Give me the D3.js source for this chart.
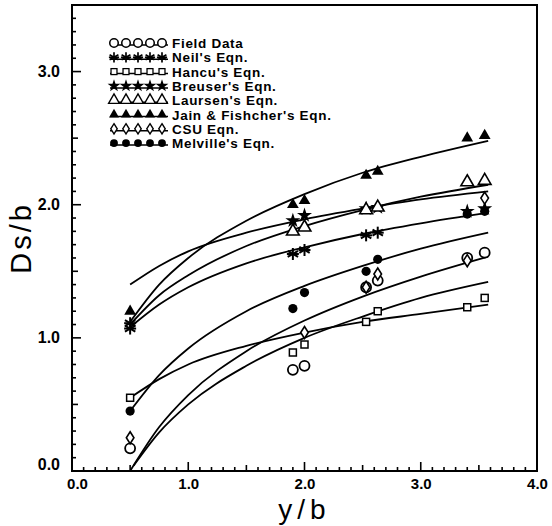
<!DOCTYPE html>
<html><head><meta charset="utf-8">
<script src="https://cdn.jsdelivr.net/npm/d3@7"></script>
<style>body{margin:0;background:#fff}svg{display:block}</style>
</head><body>
<svg id="c" width="552" height="526"></svg>
<script>
// ---- data ----
const seriesNames = ["Field  Data","Neil's  Eqn.","Hancu's  Eqn.","Breuser's  Eqn.","Laursen's  Eqn.","Jain  &  Fishcher's  Eqn.","CSU  Eqn.","Melville's  Eqn."];
const seriesSymbols = ["circle","asterisk","square","star","triangleOpen","triangle","diamond","dot"];

// measured / computed points
const fieldX = [0.5, 1.9, 2.0, 2.53, 2.63, 3.4, 3.55];
const fieldY = [0.17, 0.76, 0.79, 1.38, 1.43, 1.60, 1.64];
const neilX = [0.5, 0.5, 1.9, 2.0, 2.53, 2.63];
const neilY = [1.07, 1.11, 1.63, 1.66, 1.77, 1.79];
const hancuX = [0.5, 1.9, 2.0, 2.53, 2.63, 3.4, 3.55];
const hancuY = [0.55, 0.89, 0.95, 1.12, 1.20, 1.23, 1.30];
const breuserX = [1.9, 2.0, 2.53, 2.63, 3.4, 3.55];
const breuserY = [1.88, 1.92, 1.97, 1.98, 1.95, 1.97];
const laursenX = [1.9, 2.0, 2.53, 2.63, 3.4, 3.55];
const laursenY = [1.80, 1.83, 1.96, 1.98, 2.17, 2.18];
const jainX = [0.5, 1.9, 2.0, 2.53, 2.63, 3.4, 3.55];
const jainY = [1.20, 2.00, 2.03, 2.22, 2.25, 2.50, 2.52];
const csuX = [0.5, 2.0, 2.53, 2.63, 3.4, 3.55];
const csuY = [0.25, 1.04, 1.38, 1.48, 1.58, 2.05];
const melvilleX = [0.5, 1.9, 2.0, 2.53, 2.63, 3.4, 3.55];
const melvilleY = [0.45, 1.22, 1.34, 1.50, 1.59, 1.93, 1.95];

// fitted curves, read at these y/b positions
const curveX = [0.5, 0.75, 1.0, 1.5, 2.0, 2.5, 3.0, 3.58];
const csuCurveX = [0.53, 0.75, 1.0, 1.5, 2.0, 2.5, 3.0, 3.58];
const fieldCurve    = [0.00, 0.33, 0.57, 0.90, 1.13, 1.31, 1.46, 1.61];
const neilCurve     = [1.08, 1.25, 1.38, 1.56, 1.68, 1.78, 1.86, 1.94];
const hancuCurve    = [0.55, 0.69, 0.80, 0.94, 1.04, 1.12, 1.18, 1.25];
const breuserCurve  = [1.40, 1.54, 1.65, 1.79, 1.89, 1.97, 2.04, 2.10];
const laursenCurve  = [1.10, 1.32, 1.47, 1.69, 1.84, 1.96, 2.06, 2.15];
const jainCurve     = [1.12, 1.40, 1.60, 1.88, 2.08, 2.24, 2.36, 2.48];
const csuCurve      = [0.04, 0.29, 0.50, 0.79, 1.00, 1.16, 1.30, 1.42];
const melvilleCurve = [0.45, 0.72, 0.92, 1.20, 1.39, 1.54, 1.67, 1.79];

const xTicks = [0, 1, 2, 3, 4];
const yTicks = [0, 1, 2, 3];

// ---- drawing ----
const svg = d3.select("#c");
const x = d3.scaleLinear().domain([0, 4]).range([72, 537]);
const y = d3.scaleLinear().domain([0, 3.5]).range([471, 5]);

const fmt = d3.format(".1f");

// minor / major ticks (inside)
const xMinor = d3.range(0, 40.01, 1).map(d => d / 10);
const yMinor = d3.range(0, 35.01, 1).map(d => d / 10);
function tickLen(v) { const r = Math.round(v * 10); return r % 10 === 0 ? 9 : (r % 5 === 0 ? 6 : 4); }

const gx = svg.append("g").attr("transform", `translate(0,${y(0)})`);
xMinor.forEach(v => {
  gx.append("line").attr("x1", x(v)).attr("x2", x(v)).attr("y1", 0).attr("y2", -tickLen(v))
    .attr("stroke", "#000").attr("stroke-width", 1.6);
});
const gxl = svg.append("g").attr("transform", `translate(0,${y(0)})`)
  .call(d3.axisBottom(x).tickValues(xTicks).tickSize(0).tickPadding(7).tickFormat(fmt));
gxl.select(".domain").remove();
gxl.selectAll("text").attr("font-family", "Liberation Sans, Arial, sans-serif").attr("font-weight", "bold")
  .attr("font-size", 15).attr("fill", "#000").attr("dx", (d) => d === 0 ? 5 : 0);

const gy = svg.append("g").attr("transform", `translate(${x(0)},0)`);
yMinor.forEach(v => {
  gy.append("line").attr("y1", y(v)).attr("y2", y(v)).attr("x1", 0).attr("x2", tickLen(v))
    .attr("stroke", "#000").attr("stroke-width", 1.6);
});
const gyl = svg.append("g").attr("transform", `translate(${x(0)},0)`)
  .call(d3.axisLeft(y).tickValues(yTicks).tickSize(0).tickPadding(12).tickFormat(fmt));
gyl.select(".domain").remove();
gyl.selectAll("text").attr("font-family", "Liberation Sans, Arial, sans-serif").attr("font-weight", "bold")
  .attr("font-size", 16).attr("fill", "#000").attr("dy", (d) => d === 0 ? "-0.1em" : "0.32em");

// frame
svg.append("rect").attr("x", x(0)).attr("y", y(3.5)).attr("width", x(4) - x(0)).attr("height", y(0) - y(3.5))
  .attr("fill", "none").attr("stroke", "#000").attr("stroke-width", 2);

// axis titles
svg.append("text").attr("transform", `translate(31,${y(1.75)}) rotate(-90)`).attr("text-anchor", "middle")
  .attr("font-family", "Liberation Sans, Arial, sans-serif").attr("font-size", 29).attr("letter-spacing", 3)
  .text("Ds/b");
svg.append("text").attr("x", x(2)).attr("y", 519).attr("text-anchor", "middle")
  .attr("font-family", "Liberation Sans, Arial, sans-serif").attr("font-size", 28).attr("letter-spacing", 5)
  .text("y/b");

// curves
const line = d3.line().x(d => x(d[0])).y(d => y(d[1])).curve(d3.curveMonotoneX);
const curves = [
  [curveX, fieldCurve], [curveX, neilCurve], [curveX, hancuCurve], [curveX, breuserCurve],
  [curveX, laursenCurve], [curveX, jainCurve], [csuCurveX, csuCurve], [curveX, melvilleCurve]
];
curves.forEach(([xs, ys]) => {
  svg.append("path").datum(xs.map((v, i) => [v, ys[i]])).attr("d", line)
    .attr("fill", "none").attr("stroke", "#000").attr("stroke-width", 1.8);
});

// symbols
function drawSymbol(g, type, cx, cy, k) {
  k = k || 1;
  const s = g.append("g").attr("transform", `translate(${cx},${cy}) scale(${k})`);
  switch (type) {
    case "circle":
      s.append("circle").attr("r", 5).attr("fill", "#fff").attr("stroke", "#000").attr("stroke-width", 1.8); break;
    case "dot":
      s.append("circle").attr("r", 4.6).attr("fill", "#000"); break;
    case "square":
      s.append("rect").attr("x", -3.5).attr("y", -3.5).attr("width", 7).attr("height", 7)
        .attr("fill", "#fff").attr("stroke", "#000").attr("stroke-width", 1.5); break;
    case "asterisk":
      [0, 60, 120].forEach(a => s.append("line").attr("x1", 0).attr("y1", -6).attr("x2", 0).attr("y2", 6)
        .attr("transform", `rotate(${a})`).attr("stroke", "#000").attr("stroke-width", 2));
      s.append("line").attr("x1", -6).attr("x2", 6).attr("y1", 0).attr("y2", 0).attr("stroke", "#000").attr("stroke-width", 2);
      break;
    case "star":
      s.append("path").attr("d", d3.symbol(d3.symbolStar, 70)()).attr("fill", "#000"); break;
    case "triangle":
      s.append("path").attr("d", d3.symbol(d3.symbolTriangle, 60)()).attr("fill", "#000"); break;
    case "triangleOpen":
      s.append("path").attr("d", d3.symbol(d3.symbolTriangle, 70)()).attr("fill", "#fff")
        .attr("stroke", "#000").attr("stroke-width", 1.6); break;
    case "diamond":
      s.append("path").attr("d", "M0,-6L3.8,0L0,6L-3.8,0Z").attr("fill", "#fff")
        .attr("stroke", "#000").attr("stroke-width", 1.6); break;
  }
}

const points = [
  [fieldX, fieldY], [neilX, neilY], [hancuX, hancuY], [breuserX, breuserY],
  [laursenX, laursenY], [jainX, jainY], [csuX, csuY], [melvilleX, melvilleY]
];
const gp = svg.append("g");
points.forEach(([xs, ys], i) => {
  xs.forEach((v, j) => drawSymbol(gp, seriesSymbols[i], x(v), y(ys[j])));
});

// legend
const lg = svg.append("g");
seriesNames.forEach((name, i) => {
  const ry = 43 + i * 14.3;
  lg.append("line").attr("x1", 110).attr("x2", 168).attr("y1", ry + 2).attr("y2", ry + 2)
    .attr("stroke", "#000").attr("stroke-width", 1.5);
  for (let k = 0; k < 5; k++) drawSymbol(lg, seriesSymbols[i], 114 + k * 12, ry, 0.85);
  lg.append("text").attr("x", 172).attr("y", ry + 5)
    .attr("font-family", "Liberation Sans, Arial, sans-serif").attr("font-weight", "bold")
    .attr("font-size", 13.5).attr("letter-spacing", 0.7)
    .attr("fill", "#000").text(name);
});
</script>
</body></html>
